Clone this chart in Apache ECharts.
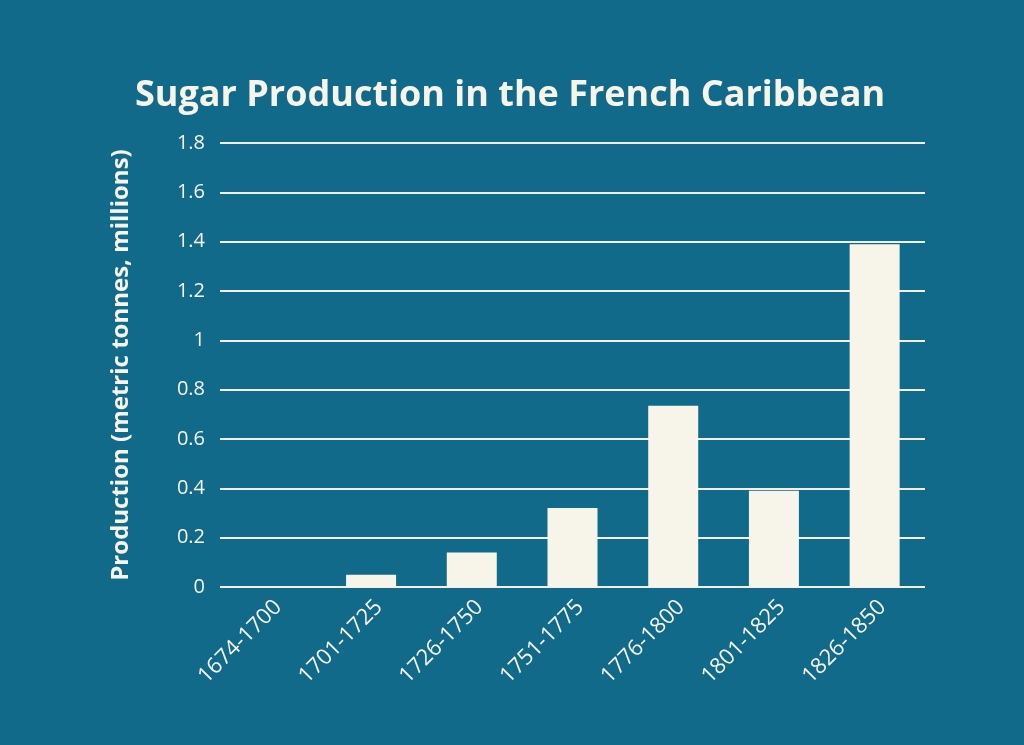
<!DOCTYPE html>
<html>
<head>
<meta charset="utf-8">
<script src="https://cdn.jsdelivr.net/npm/echarts@6/dist/echarts.min.js"></script>
<style>
  html, body { margin: 0; padding: 0; background: #126a8b; }
  #chart { width: 1024px; height: 745px; }
</style>
</head>
<body>
<div id="chart"></div>
<script>
// 数据
var periods = ['1674-1700', '1701-1725', '1726-1750', '1751-1775', '1776-1800', '1801-1825', '1826-1850'];
var production = [0, 0.05, 0.14, 0.32, 0.735, 0.39, 1.39];
var yTicks = [0, 0.2, 0.4, 0.6, 0.8, 1, 1.2, 1.4, 1.6, 1.8];

(function() {
  var chartDom = document.getElementById('chart');
  var myChart = echarts.init(chartDom);
  var option;

  option = {
    backgroundColor: '#126a8b',
    title: {
      text: 'Sugar Production in the French Caribbean',
      left: 505,
      textAlign: 'center',
      top: 73,
      textStyle: {
        color: '#f7f4ea',
        fontFamily: 'Open Sans',
        fontWeight: 'bold',
        fontSize: 36
      }
    },
    grid: {
      left: 220,
      right: 99,
      top: 143,
      bottom: 158
    },
    xAxis: {
      type: 'category',
      data: periods,
      axisLine: { show: false },
      axisTick: { show: false },
      axisLabel: {
        interval: 0,
        rotate: 45,
        margin: 9,
        verticalAlign: 'top',
        color: '#f7f4ea',
        fontFamily: 'Open Sans',
        fontSize: 22
      }
    },
    yAxis: {
      type: 'value',
      min: 0,
      max: 1.8,
      interval: 0.2,
      name: 'Production (metric tonnes, millions)',
      nameLocation: 'middle',
      nameGap: 87,
      nameTextStyle: {
        color: '#f7f4ea',
        fontFamily: 'Open Sans',
        fontWeight: 'bold',
        fontSize: 24
      },
      axisLine: { show: false },
      axisTick: { show: false },
      axisLabel: {
        margin: 15,
        color: '#f7f4ea',
        fontFamily: 'Open Sans',
        fontSize: 20,
        formatter: function(v) {
          var t = yTicks.find(function(k) { return Math.abs(k - v) < 1e-6; });
          return t === undefined ? '' : String(t);
        }
      },
      splitLine: {
        lineStyle: { color: '#f2f0e6', width: 2 }
      }
    },
    series: [
      {
        type: 'bar',
        data: production,
        barWidth: 50,
        itemStyle: { color: '#f7f4ea' },
        z: 3
      }
    ]
  };

  option && myChart.setOption(option);
})();
</script>
</body>
</html>
